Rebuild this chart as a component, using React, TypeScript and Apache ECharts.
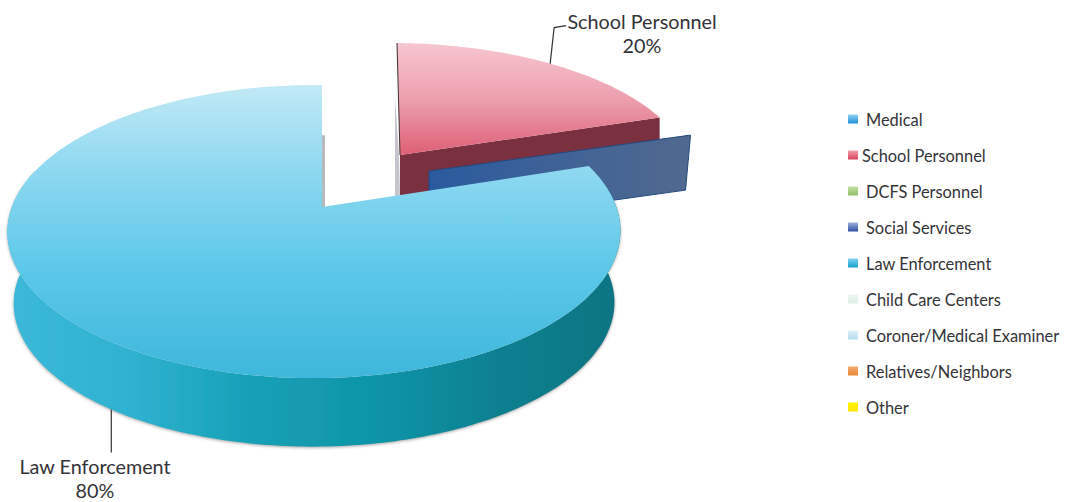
import React, { useEffect, useRef } from "react";
import * as echarts from "echarts";

const categories = ["Medical", "School Personnel", "DCFS Personnel", "Social Services", "Law Enforcement", "Child Care Centers", "Coroner/Medical Examiner", "Relatives/Neighbors", "Other"];
const percentages = [0, 20, 0, 0, 80, 0, 0, 0, 0];
const legendColors: [string, string][] = [
  ["#8ed0f2", "#1f8fd8"], ["#f0a0ac", "#d9425c"], ["#c4e2a8", "#8fc06a"], ["#9db2e0", "#2f4f9f"],
  ["#7fd2f0", "#16a2d0"], ["#eef7f0", "#dceee2"], ["#dff0f8", "#b8dcee"], ["#f4ab70", "#ea8432"], ["#fff200", "#ffe600"],
];

const K = 0.1673, M = -0.026;
const FONT = "Lato, sans-serif";
const TEXT = "#333338";

function project(g: any, deg: number, frac = 1, dy = 0, sc = 1) {
  const t = (deg * Math.PI) / 180;
  const u = Math.sin(t) * frac, v = -Math.cos(t) * frac;
  const w = 1 - K * v - M * u;
  return [g.cx + (sc * (g.R * u + (g.s || 0) * v)) / w, g.cy + dy + (sc * g.A * v) / w];
}
function arc(g: any, a: number, b: number, dy = 0, sc = 1) {
  const pts: number[][] = [];
  const n = Math.max(2, Math.ceil(Math.abs(b - a)));
  for (let i = 0; i <= n; i++) pts.push(project(g, a + ((b - a) * i) / n, 1, dy, sc));
  return pts;
}
const vGrad = (stops: [number, string][]) => new echarts.graphic.LinearGradient(0, 0, 0, 1, stops.map(([offset, color]) => ({ offset, color })));
const hGrad = (stops: [number, string][]) => new echarts.graphic.LinearGradient(0, 0, 1, 0, stops.map(([offset, color]) => ({ offset, color })));

const schoolGeom = { cx: 400, cy: 155, R: 295, A: 130.7, s: 3.5 };
const socialGeom = { cx: 429, cy: 171, R: 296, A: 125 };
const lawGeom = { cx: 322, cy: 207, R: 302, A: 142.4 };

function label(name: string, value: number, x: number, y: number) {
  return {
    type: "text",
    silent: true,
    style: { text: `${name}\n${value}%`, x, y, textAlign: "center", textVerticalAlign: "top", fill: TEXT, font: `19.8px ${FONT}`, lineHeight: 24 },
  };
}

function drawSchool(start: number, end: number, value: number, name: string) {
  const g = schoolGeom;
  const apex = [g.cx, g.cy];
  const last = project(g, end);
  const top = project(g, start);
  const lead = project(g, (start + end) / 2 + 0.5);
  return [
    { type: "polygon", silent: true, shape: { points: [[top[0] - 2, top[1] + 54], [g.cx - 1, g.cy], [g.cx, g.cy + 42], [g.cx - 5, g.cy + 42]] }, style: { fill: "#c6c4cc" } },
    { type: "polygon", silent: true, shape: { points: [apex, last, [last[0], last[1] + 40], [g.cx, g.cy + 42]] }, style: { fill: "#7b3040" } },
    { type: "polygon", silent: true, shape: { points: [apex, ...arc(g, start, end)] }, style: { fill: vGrad([[0, "#f6c6cf"], [0.5, "#eda0ae"], [1, "#dd5f75"]]) } },
    { type: "polyline", silent: true, shape: { points: [top, apex] }, style: { stroke: "#3a3036", lineWidth: 1, fill: "none" } },
    { type: "polyline", silent: true, shape: { points: [lead, [lead[0] + 4, lead[1] - 36], [lead[0] + 16, lead[1] - 38]] }, style: { stroke: "#333", lineWidth: 1.2, fill: "none" } },
    label(name, value, 642, 9),
  ];
}

function drawSocial(at: number) {
  const g = socialGeom;
  const apex = [g.cx, g.cy];
  const last = project(g, at);
  return [
    {
      type: "polygon",
      silent: true,
      shape: { points: [apex, last, [last[0] - 5, last[1] + 55], [g.cx, g.cy + 55]] },
      style: { fill: hGrad([[0, "#2a5a9e"], [0.45, "#3d6297"], [1, "#51698f"]]), stroke: "#23497e", lineWidth: 1 },
    },
  ];
}

function drawLaw(start: number, end: number, value: number, name: string) {
  const g = lawGeom;
  const apex = [g.cx, g.cy];
  const rimTop = arc(g, 80, 285);
  const rimBottom = arc(g, 80, 285, 72, 0.98).reverse();
  const lead = project(g, 217.3, 1, 72, 0.98);
  const back = project(g, 0, 0.55);
  return [
    { type: "polygon", silent: true, shape: { points: [[back[0], back[1]], [back[0] + 3, back[1]], [g.cx + 3, g.cy], apex] }, style: { fill: "#b9b9bd" } },
    {
      type: "polygon",
      silent: true,
      shape: { points: [...rimTop, ...rimBottom] },
      style: {
        fill: hGrad([[0, "#3cb8d8"], [0.2, "#2fb2d0"], [0.4, "#15a0b6"], [0.62, "#0f93a6"], [0.8, "#0d8090"], [1, "#0e7482"]]),
        shadowColor: "rgba(90,90,90,0.55)",
        shadowBlur: 3,
        shadowOffsetY: 1,
      },
    },
    { type: "polygon", silent: true, shape: { points: [apex, ...arc(g, start, end)] }, style: { fill: vGrad([[0, "#c2e9f6"], [0.3, "#8cd8f0"], [0.65, "#5ac7e8"], [1, "#3db7da"]]) } },
    { type: "polyline", silent: true, shape: { points: [lead, [lead[0], lead[1] + 43]] }, style: { stroke: "#333", lineWidth: 1.2, fill: "none" } },
    label(name, value, 95, 454),
  ];
}

export default function App() {
  const ref = useRef<HTMLDivElement>(null);
  useEffect(() => {
    const chart = echarts.init(ref.current!, null, { renderer: "svg" });
    const total = percentages.reduce((a, b) => a + b, 0);
    let acc = 0;
    const spans = percentages.map((v) => {
      const start = (acc / total) * 360;
      acc += v;
      return [start, (acc / total) * 360];
    });
    chart.setOption({
      animation: false,
      backgroundColor: "#ffffff",
      legend: {
        orient: "vertical",
        left: 843,
        top: 105,
        itemWidth: 10,
        itemHeight: 9,
        itemGap: 18,
        icon: "rect",
        selectedMode: false,
        data: categories,
        formatter: (n: string) => (n === "School Personnel" ? n : `{s|}${n}`),
        textStyle: { fontFamily: FONT, fontSize: 16.4, color: TEXT, lineHeight: 18, padding: [0, 0, 0, -1], rich: { s: { width: 4 } } },
      },
      series: categories.map((name, i) => ({
        type: "custom",
        name,
        coordinateSystem: "none",
        silent: true,
        itemStyle: { color: vGrad([[0, legendColors[i][0]], [1, legendColors[i][1]]]) },
        data: [[percentages[i]]],
        renderItem: (_p: any, api: any) => {
          const value = api.value(0);
          const [start, end] = spans[i];
          if (name === "School Personnel") return { type: "group", children: drawSchool(start, end, value, name) };
          if (name === "Social Services") return { type: "group", children: drawSocial(start) };
          if (name === "Law Enforcement") return { type: "group", children: drawLaw(start, end, value, name) };
          return null;
        },
      })),
    });
    return () => chart.dispose();
  }, []);
  return <div ref={ref} style={{ position: "fixed", left: 0, top: 0, width: 1072, height: 502 }} />;
}
